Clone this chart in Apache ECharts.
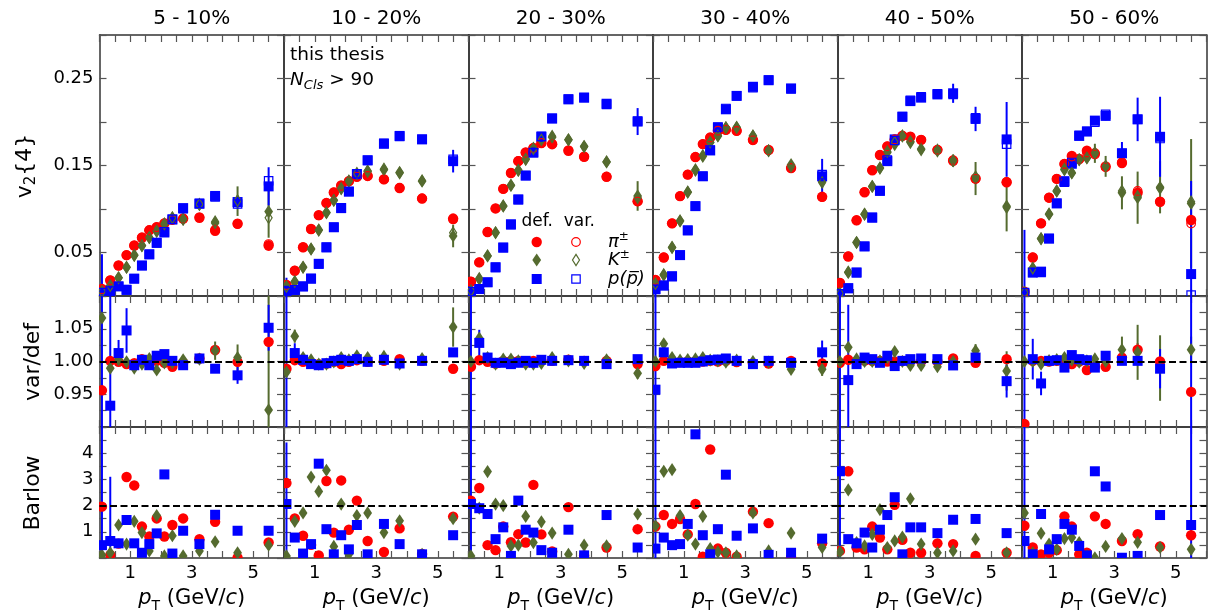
<!DOCTYPE html>
<html><head><meta charset="utf-8">
<script src="https://cdn.jsdelivr.net/npm/echarts@6/dist/echarts.min.js"></script>
<style>html,body{margin:0;padding:0;background:#fff}#c{width:1210px;height:615px}</style>
</head><body><div id="c"></div>
<script>
// ---------------- DATA ----------------
const centralities = ['5 - 10%', '10 - 20%', '20 - 30%', '30 - 40%', '40 - 50%', '50 - 60%'];
const pT = [0.08,0.35,0.62,0.88,1.13,1.38,1.62,1.86,2.11,2.37,2.72,3.25,3.76,4.49,5.5];
const xTickLabels = [1, 3, 5];

// v2{4}, default selection (one row per centrality class)
const v2Pi = [
 [0.008,0.018,0.035,0.047,0.058,0.067,0.0755,0.079,0.0835,0.088,0.089,0.090,0.075,0.083,0.058],
 [0.0127,0.029,0.056,0.077,0.093,0.107,0.119,0.127,0.132,0.137,0.138,0.134,0.124,0.112,0.089],
 [0.0165,0.0386,0.0736,0.1007,0.1231,0.1414,0.155,0.165,0.170,0.1757,0.1745,0.167,0.160,0.137,0.109],
 [0.0184,0.0443,0.0835,0.1148,0.1395,0.1597,0.1746,0.182,0.190,0.191,0.190,0.1795,0.168,0.147,0.114],
 [0.015,0.0454,0.087,0.1193,0.1445,0.162,0.172,0.180,0.184,0.183,0.1795,0.168,0.1555,0.135,0.1307],
 [0.005,0.0443,0.0835,0.113,0.1346,0.1517,0.161,0.1574,0.167,0.164,0.149,0.1529,0.1186,0.1083,0.0873]];
const v2K = [
 [0.005,0.012,0.021,0.033,0.047,0.058,0.067,0.075,0.083,0.090,0.088,0.105,0.084,0.109,0.097],
 [0.011,0.016,0.033,0.054,0.076,0.096,0.110,0.123,0.132,0.140,0.143,0.145,0.142,0.132,0.069],
 [0.006,0.0195,0.046,0.073,0.1033,0.127,0.1445,0.1574,0.170,0.180,0.1826,0.1795,0.172,0.154,0.115],
 [0.014,0.024,0.0557,0.0862,0.1193,0.1445,0.1605,0.1765,0.184,0.1936,0.1936,0.184,0.167,0.151,0.132],
 [0.003,0.027,0.0614,0.094,0.126,0.147,0.165,0.174,0.184,0.1776,0.169,0.168,0.1555,0.135,0.1033],
 [0.004,0.032,0.066,0.094,0.1205,0.145,0.1414,0.1567,0.1586,0.164,0.149,0.1186,0.113,0.125,0.1064]];
const v2P = [
 [0.003,0.006,0.011,0.007,0.020,0.035,0.048,0.061,0.073,0.088,0.101,0.106,0.115,0.108,0.126],
 [0.006,0.007,0.011,0.020,0.037,0.056,0.079,0.101,0.120,0.140,0.156,0.175,0.184,0.180,0.155],
 [0.004,0.008,0.0157,0.033,0.0557,0.0824,0.111,0.1384,0.165,0.183,0.204,0.226,0.228,0.221,0.2005],
 [0.008,0.012,0.0226,0.047,0.0755,0.1033,0.1376,0.1673,0.1936,0.2146,0.230,0.2405,0.248,0.2386,0.1376],
 [0.002,0.009,0.027,0.0569,0.09,0.121,0.155,0.180,0.206,0.224,0.228,0.2317,0.233,0.2035,0.180],
 [0.003,0.027,0.028,0.066,0.1064,0.132,0.152,0.184,0.189,0.2016,0.207,0.164,0.203,0.183,0.0252]];

// statistical errors of v2{4}
const errV2Pi = [
 [0,0,0,0,0,0,0,0,0,0,0,0,0,0,0.006],
 [0,0,0,0,0,0,0,0,0,0,0,0,0,0,0.005],
 [0,0,0,0,0,0,0,0,0,0,0,0,0,0,0.004],
 [0,0,0,0,0,0,0,0,0,0,0,0,0,0,0.004],
 [0,0,0,0,0,0,0,0,0,0,0,0,0,0,0.005],
 [0,0,0,0,0,0,0,0,0,0,0,0,0,0,0.006]];
const errV2K = [
 [0,0,0,0,0,0,0,0,0,0,0,0,0.006,0.017,0.03],
 [0,0,0,0,0,0,0,0,0,0,0,0,0,0.004,0.013],
 [0,0,0,0,0,0,0,0,0,0,0,0,0,0.004,0.017],
 [0,0,0,0,0,0,0,0,0,0,0,0,0,0,0.008],
 [0,0,0,0,0,0,0,0,0,0,0,0,0.007,0.019,0.029],
 [0,0,0,0,0,0,0,0,0,0.011,0.012,0.019,0.03,0.03,0.074]];
const errV2P = [
 [0.045,0,0,0,0,0,0,0,0,0,0,0,0.005,0.006,0.022],
 [0.015,0,0,0,0,0,0,0,0,0,0,0,0,0,0.013],
 [0.012,0,0,0,0,0,0,0,0,0,0,0,0,0,0.0155],
 [0.015,0,0,0,0,0,0,0,0,0,0,0,0,0.005,0.02],
 [0.012,0,0,0,0,0,0,0,0,0,0,0,0.011,0.014,0.043],
 [0.073,0,0,0,0,0,0,0,0,0.005,0.005,0.013,0.025,0.046,0.107]];

// ratio var/def
const ratioPi = [
 [0.956,1.001,0.9995,0.996,0.9975,1.0036,1.001,1.001,0.998,0.992,0.998,1.0046,1.0175,0.9995,1.030],
 [0.989,1.002,0.9995,0.997,0.996,0.997,0.9995,0.996,0.9995,1.002,0.9995,1.001,1.0036,1.001,0.989],
 [0.992,1.002,0.9995,0.997,1.001,1.001,1.001,0.998,1.001,1.001,1.001,1.0026,1.001,1.001,0.996],
 [0.993,1.001,1.0,0.999,1.0,1.0,1.0,1.001,1.0,1.001,0.999,0.997,0.997,1.001,0.997],
 [0.998,1.0026,1.0,1.0015,1.001,1.001,1.0,1.0,1.001,1.0,1.0,1.0,1.0046,0.998,1.0036],
 [0.9046,1.001,1.001,1.0,1.001,1.0,0.996,1.0,0.987,0.992,0.992,1.006,1.018,1.0,0.9536]];
const ratioK = [
 [1.0665,0.9897,1.003,0.9995,0.99,0.996,1.0046,0.987,0.998,0.998,1.0026,1.0036,1.0165,1.006,0.926],
 [0.984,1.0387,1.006,1.0026,0.996,0.996,0.9995,1.006,1.0026,1.0088,1.006,1.0077,0.996,1.0046,1.0526],
 [1.0,1.0356,1.006,0.996,1.0036,1.0036,1.001,0.996,0.996,0.997,1.006,1.001,0.997,1.0026,0.982],
 [1.0,1.027,1.006,1.002,1.003,1.004,1.006,1.002,1.001,0.999,1.002,1.0,0.999,0.988,0.988],
 [1.0,1.0216,1.004,1.0,1.0,1.001,1.006,1.015,1.0,0.994,0.994,0.992,1.0,1.0165,0.9856],
 [1.0,1.0,0.996,1.0015,1.003,1.006,1.002,0.999,1.001,1.004,1.0,1.018,1.014,0.99,1.018]];
const ratioP = [
 [1.3,0.9325,1.0129,1.0474,0.9943,1.0026,0.9943,1.0088,1.0113,1.001,0.9943,1.0046,0.989,0.9789,1.0515],
 [0.8,1.0129,1.0026,0.996,0.9943,0.9974,1.001,1.0026,1.001,1.0036,0.9995,1.0026,0.997,1.001,1.0139],
 [1.3,1.0284,1.006,0.998,0.998,0.996,0.998,1.001,0.998,1.0026,1.001,1.002,1.001,0.996,1.0036],
 [0.957,1.014,0.997,0.998,0.998,0.998,1.0,1.002,1.003,1.0046,1.001,0.996,1.001,0.998,1.014],
 [1.3,0.9716,0.996,1.006,1.0036,0.998,1.0088,0.993,1.001,1.0036,1.0046,1.0036,0.994,1.006,0.970],
 [1.3,1.0036,0.9665,1.001,1.002,0.9907,1.0098,1.0036,1.002,0.9907,1.0088,1.001,1.001,0.989,0.04]];
const errRatioPi = [
 [0,0,0,0,0,0,0,0,0,0,0,0,0,0,0],
 [0,0,0,0,0,0,0,0,0,0,0,0,0,0,0],
 [0,0,0,0,0,0,0,0,0,0,0,0,0,0,0],
 [0,0,0,0,0,0,0,0,0,0,0,0,0,0,0],
 [0,0,0,0,0,0,0,0,0,0,0,0,0,0,0],
 [0,0,0,0,0,0,0,0,0,0,0,0,0.01,0.005,0]];
const errRatioK = [
 [0,0,0,0,0,0,0,0,0,0,0,0,0.014,0.02,0.18],
 [0,0.01,0,0,0,0,0,0,0,0,0,0,0,0,0.03],
 [0,0,0,0,0,0,0,0,0,0,0,0,0,0,0.008],
 [0,0,0,0,0,0,0,0,0,0,0,0,0,0,0.01],
 [0,0,0,0,0,0,0,0,0,0,0,0,0,0.01,0.03],
 [0,0,0,0,0,0,0,0,0,0,0,0.02,0.042,0.05,0.02]];
const errRatioP = [
 [0.5,0.2,0.02,0.034,0,0,0,0,0,0,0,0,0,0.013,0.035],
 [0.5,0.015,0,0,0,0,0,0,0,0,0,0,0,0,0],
 [0.5,0.02,0,0,0,0,0,0,0,0,0,0,0,0,0],
 [0.2,0,0,0,0,0,0,0,0,0,0,0,0,0,0.018],
 [0.5,0.115,0,0,0,0,0,0,0,0,0,0,0,0,0.025],
 [0.5,0.031,0.018,0,0,0,0,0,0,0,0,0,0,0.03,1.1]];

// Barlow check
const barlowPi = [
 [1.96,0.115,0.55,3.09,2.77,1.2,0.82,1.51,0.82,1.26,1.51,0.72,1.38,0.01,0.59],
 [2.86,1.51,0.85,0.5,0.1,2.94,0.97,2.96,1.08,2.19,0.65,0.23,1.13,0.15,1.58],
 [2.19,2.67,0.49,0.3,1.2,0.6,0.91,0.59,2.79,0.9,0.25,1.94,0.1,0.4,1.1],
 [1.2,1.64,1.3,1.49,0.9,2.06,0.05,4.14,0.36,0.2,0.05,1.77,1.33,0.02,0.56],
 [0.27,3.31,0.4,0.33,1.2,0.78,0.33,2.03,0.69,0.2,0.2,0.56,0.53,0.08,0.2],
 [1.23,0.4,0.14,0.2,0.3,1.59,1.2,0.14,0.2,1.59,1.3,0.65,0.91,0.44,0.87]];
const barlowK = [
 [0.115,0.2,1.26,0.53,1.40,0.97,0.27,1.62,0.08,0.85,0.08,0.27,0.62,0.2,0.49],
 [0.08,1.4,1.72,3.09,2.54,3.35,0.44,2.06,0.14,1.62,1.72,0.97,1.42,0.14,1.5],
 [0.08,1.9,3.3,2.06,2.0,0.46,0.49,1.59,0.59,1.38,0.95,0.14,0.49,0.46,1.68],
 [1.23,3.31,3.37,1.62,0.87,0.53,1.59,0.36,0.23,0.2,0.08,1.72,0.27,0.95,0.4],
 [0.23,2.6,0.59,0.46,0.9,1.85,0.4,0.65,0.8,2.26,0.53,0.2,0.27,0.72,0.2],
 [1.72,0.2,0.94,0.53,0.33,0.74,0.78,0.59,0.08,0.01,0.44,0.74,0.6,0.4,0.33]];
const barlowP = [
 [0.49,0.65,0.56,1.45,0.56,0.2,0.53,0.94,3.19,0.17,1.04,0.53,1.65,1.04,1.04],
 [2.06,0.78,0.17,0.53,3.6,1.1,0.14,0.87,0.33,1.26,0.14,1.3,0.53,0.14,0.87],
 [2.06,1.9,1.68,0.72,1.17,0.08,2.19,1.08,0.97,0.3,0.2,1.08,0.1,1.64,0.4],
 [0.36,0.78,0.49,0.53,1.3,4.72,0.87,0.14,1.1,3.18,0.85,1.13,0.12,0.2,0.74],
 [3.31,0.72,0.56,0.97,0.4,1.08,1.64,2.32,0.14,1.17,1.17,0.95,1.46,1.49,0.95],
 [0.65,0.14,1.68,0.33,0.72,1.3,1.08,0.46,0.1,3.31,2.73,0.01,0.08,1.64,1.26]];
const errBarlowP = [
 [5,2.45,0,0,0,0,0,0,0,0,0,0,0,0,0],
 [2.35,0,0,0,0,0,0,0,0,0,0,0,0,0,0],
 [5,0,0,0,0,0,0,0,0,0,0,0,0,0,0],
 [5,0,0,0,0,0,0,0,0,0,0,0,0,0,0],
 [5,0,0,0,0,0,0,0,0,0,0,0,0,0,0],
 [5,0,0,0,0,0,0,0,0,0,0,0,0,0,5]];

// varied selection v2{4} = default x (var/def)
const varPi = v2Pi.map((a, c) => a.map((v, i) => v * ratioPi[c][i]));
const varK  = v2K.map((a, c) => a.map((v, i) => v * ratioK[c][i]));
const varP  = v2P.map((a, c) => a.map((v, i) => v * ratioP[c][i]));

// ---------------- LAYOUT / STYLE ----------------
const FONT = 'DejaVu Sans';
const COL = { pi: '#ff0000', k: '#556b2f', p: '#0000ff' };
const L0 = 99.5, W = 184.5;
const ROWS = [{ top: 35, h: 261 }, { top: 296, h: 131 }, { top: 427, h: 131 }];
const YAX = [
  { min: 0, max: 0.3, interval: 0.05, fmt: v => { const r = Math.round(v * 1000); return (r === 50 || r === 150 || r === 250) ? v.toFixed(2) : ''; } },
  { min: 0.9, max: 1.1, interval: 0.025, fmt: v => { const r = Math.round(v * 1000); return (r === 950 || r === 1000 || r === 1050) ? v.toFixed(2) : ''; } },
  { min: 0, max: 5, interval: 0.5, fmt: v => { const r = Math.round(v * 10); return (r === 10 || r === 20 || r === 30 || r === 40) ? String(r / 10) : ''; } }
];

const grid = [], xAxis = [], yAxis = [], series = [];
const lineC = '#333', tickC = '#555';

for (let r = 0; r < 3; r++) {
  for (let c = 0; c < 6; c++) {
    const g = r * 6 + c;
    grid.push({ left: L0 + c * W, top: ROWS[r].top, width: W, height: ROWS[r].h, containLabel: false, outerBoundsMode: 'none' });
    ['bottom', 'top'].forEach(pos => {
      xAxis.push({
        gridIndex: g, type: 'value', min: 0, max: 6, interval: 0.5, position: pos,
        axisLine: { show: true, onZero: false, lineStyle: { color: lineC, width: 1.5 } },
        axisTick: { show: true, inside: true, length: 7, lineStyle: { color: tickC, width: 1.2 } },
        axisLabel: {
          show: pos === 'bottom' && r === 2, margin: 6, fontSize: 18, fontFamily: FONT, color: '#000',
          formatter: v => { const k = Math.round(v * 10) / 10; return xTickLabels.includes(k) ? String(k) : ''; }
        },
        splitLine: { show: false }
      });
    });
    ['left', 'right'].forEach(pos => {
      yAxis.push({
        gridIndex: g, type: 'value', min: YAX[r].min, max: YAX[r].max, interval: YAX[r].interval, position: pos,
        axisLine: { show: true, onZero: false, lineStyle: { color: lineC, width: 1.5 } },
        axisTick: { show: true, inside: true, length: 7, lineStyle: { color: tickC, width: 1.2 } },
        axisLabel: { show: pos === 'left' && c === 0, margin: 6, fontSize: 18, fontFamily: FONT, color: '#000', formatter: YAX[r].fmt },
        splitLine: { show: false }
      });
    });
  }
}

function errSeries(g, ys, es, color) {
  const data = [];
  pT.forEach((x, i) => { if (es[i] > 0) data.push([x, ys[i] - es[i], ys[i] + es[i]]); });
  return {
    type: 'custom', xAxisIndex: 2 * g, yAxisIndex: 2 * g, data, clip: true, z: 2, silent: true,
    encode: { x: 0, y: [1, 2] },
    renderItem: (params, api) => {
      const x = api.value(0);
      const a = api.coord([x, api.value(1)]), b = api.coord([x, api.value(2)]);
      const cs = params.coordSys;
      const cl = y => Math.max(cs.y, Math.min(cs.y + cs.height, y));
      return { type: 'line', shape: { x1: a[0], y1: cl(a[1]), x2: a[0], y2: cl(b[1]) }, style: { stroke: color, lineWidth: 2 } };
    }
  };
}
// markers drawn as custom shapes so that they are clipped at the panel frame
function dots(g, ys, key, open) {
  const color = COL[key];
  const style = open ? { fill: 'none', stroke: color, lineWidth: 1.2 } : { fill: color };
  return {
    type: 'custom', xAxisIndex: 2 * g, yAxisIndex: 2 * g, clip: true, silent: true, z: open ? 4 : 3,
    data: pT.map((x, i) => [x, ys[i]]), encode: { x: 0, y: 1 },
    renderItem: (params, api) => {
      const p = api.coord([api.value(0), api.value(1)]);
      if (key === 'pi') {
        return { type: 'circle', shape: { cx: p[0], cy: p[1], r: open ? 4.3 : 5.2 }, style };
      }
      if (key === 'p') {
        const s = open ? 8.4 : 10;
        return { type: 'rect', shape: { x: p[0] - s / 2, y: p[1] - s / 2, width: s, height: s }, style };
      }
      const w = open ? 3.5 : 4.4, h = open ? 5.6 : 6.6;
      return { type: 'polygon', shape: { points: [[p[0], p[1] - h], [p[0] + w, p[1]], [p[0], p[1] + h], [p[0] - w, p[1]]] }, style };
    }
  };
}
function refLine(g, yv) {
  return {
    type: 'scatter', xAxisIndex: 2 * g, yAxisIndex: 2 * g, data: [], z: 1, silent: true,
    markLine: { silent: true, symbol: ['none', 'none'], label: { show: false }, animation: false,
      lineStyle: { color: '#000', type: [7, 3.5], width: 2, opacity: 1 }, data: [{ yAxis: yv }] }
  };
}

for (let c = 0; c < 6; c++) {
  // top row: v2{4}
  let g = c;
  series.push(errSeries(g, v2Pi[c], errV2Pi[c], COL.pi));
  series.push(errSeries(g, v2K[c], errV2K[c], COL.k));
  series.push(errSeries(g, v2P[c], errV2P[c], COL.p));
  series.push(dots(g, v2Pi[c], 'pi', false));
  series.push(dots(g, v2K[c], 'k', false));
  series.push(dots(g, v2P[c], 'p', false));
  series.push(dots(g, varPi[c], 'pi', true));
  series.push(dots(g, varK[c], 'k', true));
  series.push(dots(g, varP[c], 'p', true));
  // middle row: var/def
  g = 6 + c;
  series.push(refLine(g, 1));
  series.push(errSeries(g, ratioPi[c], errRatioPi[c], COL.pi));
  series.push(errSeries(g, ratioK[c], errRatioK[c], COL.k));
  series.push(errSeries(g, ratioP[c], errRatioP[c], COL.p));
  series.push(dots(g, ratioPi[c], 'pi', false));
  series.push(dots(g, ratioK[c], 'k', false));
  series.push(dots(g, ratioP[c], 'p', false));
  // bottom row: Barlow
  g = 12 + c;
  series.push(refLine(g, 2));
  series.push(errSeries(g, barlowP[c], errBarlowP[c], COL.p));
  series.push(dots(g, barlowPi[c], 'pi', false));
  series.push(dots(g, barlowK[c], 'k', false));
  series.push(dots(g, barlowP[c], 'p', false));
}

// ---------------- TEXT ----------------
const graphic = [];
function txt(x, y, text, opts = {}) {
  graphic.push(Object.assign({
    type: 'text', x, y, silent: true,
    style: Object.assign({
      text, fill: '#000', fontFamily: FONT, fontSize: 20,
      align: 'center', verticalAlign: 'middle', textAlign: 'center', textVerticalAlign: 'middle'
    }, opts.style || {})
  }, opts.el || {}));
}
centralities.forEach((t, c) => txt(L0 + c * W + W / 2, 19, t, { style: { fontSize: 20 } }));

const richX = {
  i: { fontStyle: 'italic', fontSize: 21, fontFamily: FONT, lineHeight: 28 },
  s: { fontSize: 14, fontFamily: FONT, lineHeight: 14, verticalAlign: 'bottom' }
};
for (let c = 0; c < 6; c++) {
  txt(L0 + c * W + W / 2, 599, '{i|p}{s|T} (GeV/{i|c})', { style: { fontSize: 21, lineHeight: 28, rich: richX } });
}
txt(25, 166, 'v{s|2}{4}', { el: { rotation: Math.PI / 2 }, style: { fontSize: 22, lineHeight: 28,
  rich: { s: { fontSize: 15, fontFamily: FONT, lineHeight: 15, verticalAlign: 'bottom' } } } });
txt(33, 362, 'var/def', { el: { rotation: Math.PI / 2 }, style: { fontSize: 22 } });
txt(33, 493, 'Barlow', { el: { rotation: Math.PI / 2 }, style: { fontSize: 22 } });

txt(290, 55, 'this thesis', { style: { fontSize: 18.5, align: 'left', textAlign: 'left' } });
txt(290, 80, '{i|N}{s|Cls} > 90', { style: { fontSize: 18.5, align: 'left', textAlign: 'left', lineHeight: 24,
  rich: { i: { fontStyle: 'italic', fontSize: 18.5, fontFamily: FONT, lineHeight: 24 },
          s: { fontStyle: 'italic', fontSize: 13, fontFamily: FONT, lineHeight: 13, verticalAlign: 'bottom' } } } });

// legend
txt(521.5, 222, 'def.  var.', { style: { fontSize: 17, align: 'left', textAlign: 'left' } });
const richL = {
  i: { fontStyle: 'italic', fontSize: 18, fontFamily: FONT, lineHeight: 22 },
  u: { fontSize: 12, fontFamily: FONT, lineHeight: 12, verticalAlign: 'top' }
};
txt(608, 242, '{i|π}{u|±}', { style: { fontSize: 18, lineHeight: 22, align: 'left', textAlign: 'left', rich: richL } });
txt(608, 260, '{i|K}{u|±}', { style: { fontSize: 18, lineHeight: 22, align: 'left', textAlign: 'left', rich: richL } });
txt(608, 279, '{i|p(p\u0305)}', { style: { fontSize: 18, lineHeight: 22, align: 'left', textAlign: 'left', rich: richL } });
const lx1 = 536.7, lx2 = 576;
graphic.push({ type: 'circle', silent: true, shape: { cx: lx1, cy: 242, r: 5.2 }, style: { fill: COL.pi } });
graphic.push({ type: 'circle', silent: true, shape: { cx: lx2, cy: 242, r: 4.3 }, style: { fill: 'none', stroke: COL.pi, lineWidth: 1.2 } });
graphic.push({ type: 'polygon', silent: true, shape: { points: [[lx1, 253.4], [lx1 + 4.4, 260], [lx1, 266.6], [lx1 - 4.4, 260]] }, style: { fill: COL.k } });
graphic.push({ type: 'polygon', silent: true, shape: { points: [[lx2, 254.4], [lx2 + 3.5, 260], [lx2, 265.6], [lx2 - 3.5, 260]] }, style: { fill: 'none', stroke: COL.k, lineWidth: 1.2 } });
graphic.push({ type: 'rect', silent: true, shape: { x: lx1 - 5, y: 274, width: 10, height: 10 }, style: { fill: COL.p } });
graphic.push({ type: 'rect', silent: true, shape: { x: lx2 - 4.2, y: 274.8, width: 8.4, height: 8.4 }, style: { fill: 'none', stroke: COL.p, lineWidth: 1.2 } });

const chart = echarts.init(document.getElementById('c'), null, { renderer: 'canvas' });
chart.setOption({ backgroundColor: '#fff', animation: false, grid, xAxis, yAxis, series, graphic });
</script></body></html>
